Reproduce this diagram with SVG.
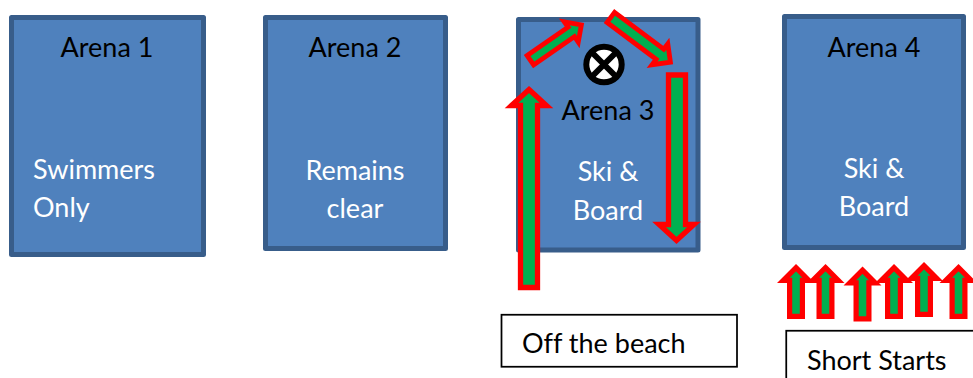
<svg xmlns="http://www.w3.org/2000/svg" xmlns:xlink="http://www.w3.org/1999/xlink" width="973" height="378" viewBox="0 0 973 378">
<style>
text{font-family:"Lato","Open Sans","Liberation Sans",sans-serif;font-size:27px;font-variant-ligatures:none}
.arena{fill:#4F81BD;stroke:#385D8A;stroke-width:5;stroke-linejoin:round}
.k{fill:#000}.w{fill:#fff}.m{text-anchor:middle}
.arrow{fill:#00B050;stroke:#F00;stroke-width:5.3;stroke-linejoin:miter;stroke-miterlimit:10}
.thin{stroke-width:4.8}
.short{stroke-width:5.2}
.box{fill:#fff;stroke:#000;stroke-width:1.75}
</style>
<defs>
<polygon id="short" class="arrow short" points="0,3.7 12.7,16.4 6.4,16.4 6.4,52.4 -6.400,52.4 -6.400,16.4 -12.700,16.4"/>
</defs>
<rect width="973" height="378" fill="#fff"/>
<g id="arena1"><rect class="arena" x="11.5" y="17.5" width="192" height="237"/>
<text class="k m" x="107" y="57">Arena 1</text><text class="w" x="33" y="179">Swimmers</text><text class="w" x="33" y="217">Only</text></g>
<g id="arena2"><rect class="arena" x="265.5" y="17.5" width="180" height="231"/>
<text class="k m" x="355" y="57">Arena 2</text><text class="w m" x="355" y="180">Remains</text><text class="w m" x="355" y="218">clear</text></g>
<g id="arena3"><rect class="arena" x="518.5" y="19.5" width="179.500" height="230.500"/>
<text class="k m" x="608" y="120">Arena 3</text><text class="w m" x="608" y="181">Ski &amp;</text><text class="w m" x="608" y="220">Board</text></g>
<g id="arena4"><rect class="arena" x="784.500" y="16.500" width="179" height="231"/>
<text class="k m" x="874" y="57">Arena 4</text><text class="w m" x="874" y="178">Ski &amp;</text><text class="w m" x="874" y="216">Board</text></g>
<g id="marker-x"><circle cx="604" cy="64.500" r="17.700" fill="#fff" stroke="#000" stroke-width="6"/>
<path d="M591.500 52 L616.500 77 M616.500 52 L591.500 77" stroke="#000" stroke-width="6" fill="none"/></g>
<g id="connectors">
<polygon class="arrow" points="529,89.500 546.500,105.500 537.500,105.500 537.500,287.500 520.500,287.500 520.500,105.500 511.500,105.500"/>
<polygon class="arrow" points="668.500,75 685.500,75 685.500,224.500 694,224.500 676.500,240.500 659,224.500 668.500,224.500"/>
<g transform="translate(528.500 61.500) rotate(-34.700)"><polygon class="arrow thin" points="2.300,-5.700 52,-5.700 52,-12.300 64.300,0 52,12.300 52,5.700 2.300,5.700"/></g>
<g transform="translate(609 16) rotate(36.900)"><polygon class="arrow thin" points="2.300,-6.300 63.700,-6.300 63.700,-13.100 76.800,0 63.700,13.100 63.700,6.300 2.300,6.300"/></g>
<use xlink:href="#short" href="#short" x="796" y="264"/>
<use xlink:href="#short" href="#short" x="825.500" y="264"/>
<use xlink:href="#short" href="#short" x="862.500" y="266.500"/>
<use xlink:href="#short" href="#short" x="894" y="264"/>
<use xlink:href="#short" href="#short" x="924" y="262"/>
<use xlink:href="#short" href="#short" x="958.500" y="264"/>
</g>
<g id="off-beach"><rect class="box" x="501.500" y="314.750" width="235.500" height="52"/><text class="k" x="522" y="353">Off the beach</text></g>
<g id="short-starts"><rect class="box" x="786.250" y="330.750" width="200" height="60"/><text class="k" x="807" y="370">Short Starts</text></g>
</svg>
